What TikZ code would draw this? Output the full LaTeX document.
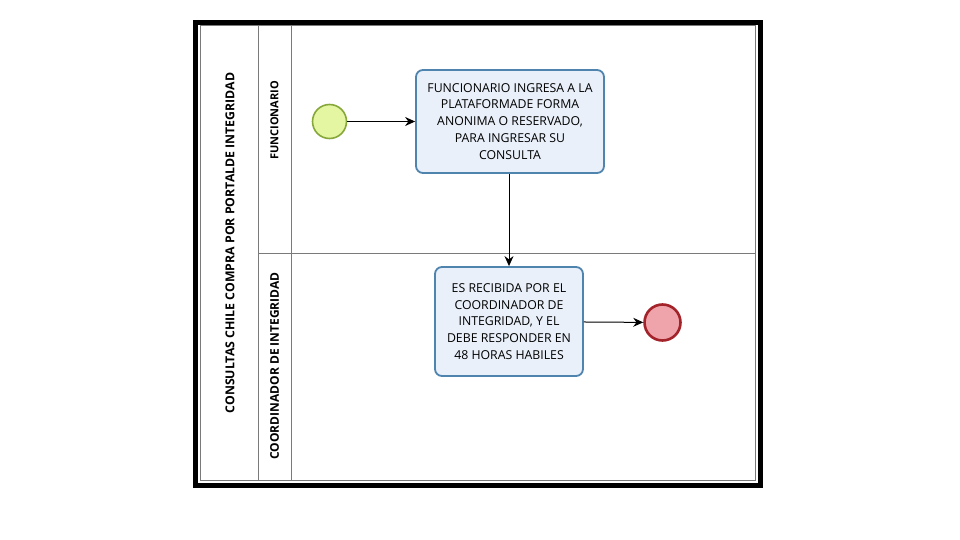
\documentclass[tikz,border=0pt]{standalone}
\usepackage{fontspec}
\setmainfont{Open Sans}
\usetikzlibrary{arrows.meta}
\definecolor{laneline}{HTML}{7A7A7A}
\definecolor{taskfill}{HTML}{E9F0FA}
\definecolor{taskdraw}{HTML}{4E84AE}
\definecolor{startfill}{HTML}{E4F6A2}
\definecolor{startdraw}{HTML}{86A83A}
\definecolor{endfill}{HTML}{EFA3AA}
\definecolor{enddraw}{HTML}{A3232B}
\tikzset{
  lane/.style={draw=laneline, line width=1pt},
  task/.style={draw=taskdraw, fill=taskfill, line width=1.8pt, rounded corners=7pt,
    align=center, font=\fontsize{12.3}{16.9}\selectfont, inner sep=0pt},
  startev/.style={circle, draw=startdraw, fill=startfill, line width=1.6pt, minimum size=34pt, inner sep=0pt},
  endev/.style={circle, draw=enddraw, fill=endfill, line width=2.6pt, minimum size=36pt, inner sep=0pt},
  flow/.style={draw=black, line width=1pt, -{Stealth[length=10pt,width=9pt]}},
  lanetitle/.style={rotate=90, font=\bfseries\fontsize{12}{13}\selectfont},
}
\begin{document}
\begin{tikzpicture}[x=1pt,y=-1pt]
\useasboundingbox (0,0) rectangle (960,540);
\fill[white] (0,0) rectangle (960,540);
% pool and lanes
\draw[lane] (200,26) rectangle (755,480);
\draw[lane] (258,26) -- (258,480);
\draw[lane] (291,26) -- (291,480);
\draw[lane] (258,253) -- (755,253);
\draw[black, line width=5pt] (195,22.5) rectangle (760,485.5);
% labels
\node[lanetitle, font=\bfseries\fontsize{12.3}{13}\selectfont] (pool) at (230,243) {CONSULTAS CHILE COMPRA POR PORTALDE INTEGRIDAD};
\node[lanetitle, font=\bfseries\fontsize{11}{13}\selectfont] (l1) at (274.5,120.5) {FUNCIONARIO};
\node[lanetitle] (l2) at (274.5,366) {COORDINADOR DE INTEGRIDAD};
% elements
\node[startev] (start) at (329.5,121.5) {};
\node[task, minimum width=188pt, minimum height=103pt] (t1) at (510,121.5) {FUNCIONARIO INGRESA A LA\\PLATAFORMADE FORMA\\ANONIMA O RESERVADO,\\PARA INGRESAR SU\\CONSULTA};
\node[task, minimum width=148pt, minimum height=109pt] (t2) at (509,321.5) {ES RECIBIDA POR EL\\COORDINADOR DE\\INTEGRIDAD, Y EL\\DEBE RESPONDER EN\\48 HORAS HABILES};
\node[endev] (end) at (662.5,322.5) {};
% flows
\draw[flow] (start) -- (t1);
\draw[flow] (t1.south -| t2.north) -- (t2.north);
\draw[flow] (t2) -- (end);
\end{tikzpicture}
\end{document}
